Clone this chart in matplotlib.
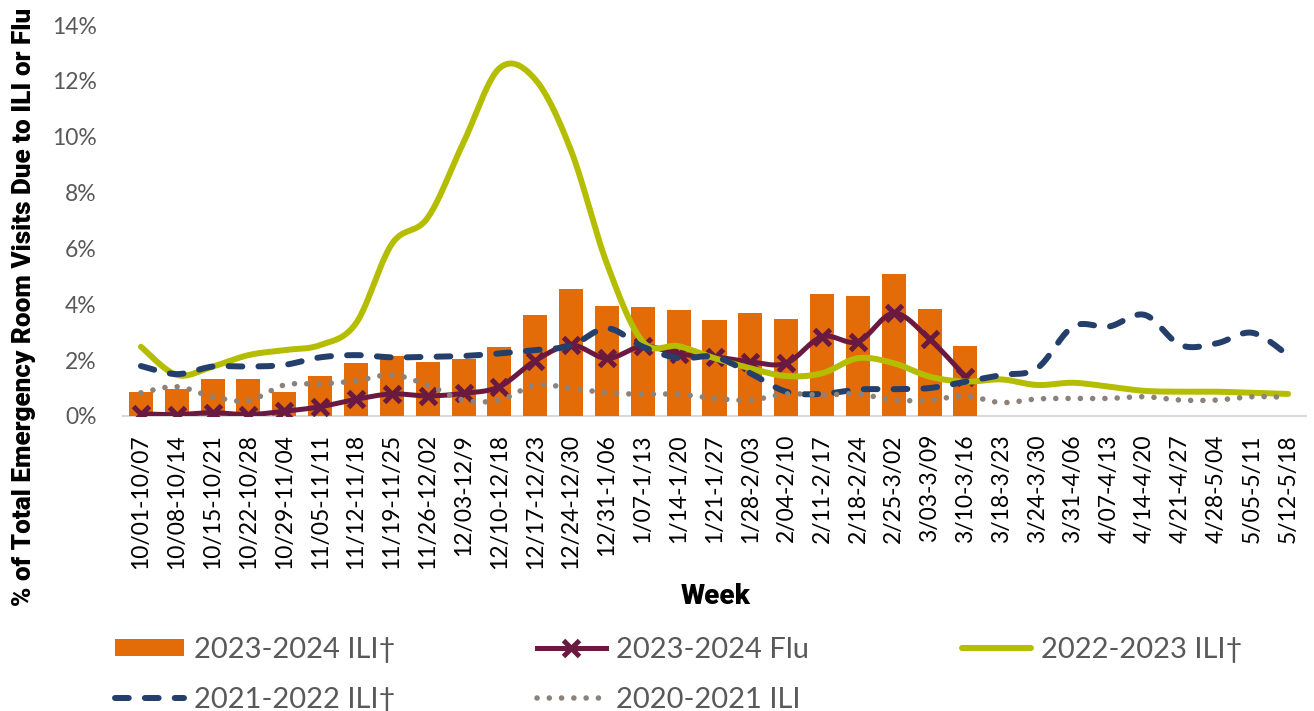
import numpy as np
import matplotlib
matplotlib.use("Agg")
import matplotlib.pyplot as plt
from matplotlib.lines import Line2D
from matplotlib.patches import Patch

weeks = ["10/01-10/07", "10/08-10/14", "10/15-10/21", "10/22-10/28", "10/29-11/04",
         "11/05-11/11", "11/12-11/18", "11/19-11/25", "11/26-12/02", "12/03-12/9",
         "12/10-12/18", "12/17-12/23", "12/24-12/30", "12/31-1/06", "1/07-1/13",
         "1/14-1/20", "1/21-1/27", "1/28-2/03", "2/04-2/10", "2/11-2/17", "2/18-2/24",
         "2/25-3/02", "3/03-3/09", "3/10-3/16", "3/18-3/23", "3/24-3/30", "3/31-4/06",
         "4/07-4/13", "4/14-4/20", "4/21-4/27", "4/28-5/04", "5/05-5/11", "5/12-5/18"]

ili_2324 = [0.86, 0.97, 1.32, 1.32, 0.86, 1.43, 1.90, 2.15, 1.93, 2.04, 2.47, 3.60,
            4.56, 3.94, 3.91, 3.80, 3.44, 3.70, 3.47, 4.37, 4.30, 5.07, 3.82, 2.52]
flu_2324 = [0.08, 0.05, 0.12, 0.05, 0.17, 0.33, 0.60, 0.79, 0.72, 0.81, 1.05, 1.98,
            2.54, 2.06, 2.50, 2.22, 2.12, 1.94, 1.89, 2.84, 2.66, 3.68, 2.75, 1.41]
ili_2223 = [2.48, 1.47, 1.77, 2.18, 2.36, 2.54, 3.32, 6.16, 7.10, 9.80, 12.45, 12.05,
            9.50, 5.45, 2.66, 2.50, 2.07, 1.71, 1.43, 1.53, 2.07, 1.89, 1.41, 1.23,
            1.31, 1.11, 1.19, 1.05, 0.90, 0.87, 0.87, 0.83, 0.79]
ili_2122 = [1.79, 1.50, 1.77, 1.77, 1.83, 2.10, 2.18, 2.10, 2.12, 2.15, 2.24, 2.36,
            2.52, 3.14, 2.48, 2.07, 2.12, 1.53, 0.87, 0.79, 0.95, 0.96, 1.00, 1.23,
            1.47, 1.71, 3.20, 3.20, 3.62, 2.54, 2.60, 2.98, 2.18]
ili_2021 = [0.83, 1.05, 0.69, 0.55, 1.11, 1.15, 1.26, 1.47, 1.11, 0.57, 0.57, 1.11,
            0.99, 0.83, 0.78, 0.78, 0.63, 0.57, 0.79, 0.75, 0.79, 0.57, 0.57, 0.72,
            0.48, 0.61, 0.63, 0.63, 0.69, 0.57, 0.57, 0.69, 0.67]

labels = ["2023-2024 ILI\u2020", "2023-2024 Flu", "2022-2023 ILI\u2020",
          "2021-2022 ILI\u2020", "2020-2021 ILI"]

ORANGE = "#E36C09"
MAROON = "#6A1A41"
GREEN = "#B5BD00"
NAVY = "#243F6B"
GREY = "#8C8279"

TXT = ["Lato", "DejaVu Sans"]
BOLD = ["Roboto", "DejaVu Sans"]


def smooth(xv, yv, n=24):
    p = np.column_stack([np.asarray(xv, float), np.asarray(yv, float)])
    out = [p[:1]]
    t = np.linspace(0, 1, n)[1:, None]
    for i in range(len(p) - 1):
        p0 = p[max(i - 1, 0)]
        p1 = p[i]
        p2 = p[i + 1]
        p3 = p[min(i + 2, len(p) - 1)]
        c1 = p1 + (p2 - p0) / 6.0
        c2 = p2 - (p3 - p1) / 6.0
        seg = ((1 - t) ** 3) * p1 + 3 * ((1 - t) ** 2) * t * c1 + 3 * (1 - t) * t ** 2 * c2 + t ** 3 * p2
        out.append(seg)
    a = np.vstack(out)
    return a[:, 0], a[:, 1]


W, H = 1314, 711
fig = plt.figure(figsize=(W / 100, H / 100), dpi=100)
ax = fig.add_axes([123 / W, 1 - 416 / H, (1306 - 123) / W, (416 - 25) / H])

x = np.arange(len(weeks))
n24 = len(ili_2324)

ax.bar(x[:n24], ili_2324, width=0.67, color=ORANGE, zorder=1)

dash_style = (0, (2.3, 2.7))
dot_style = (0, (0.01, 2.2))

sx, sy = smooth(x[:n24], flu_2324)
ax.plot(sx, sy, color=MAROON, lw=3.6, solid_capstyle="round", zorder=3)
ax.plot(x[:n24], flu_2324, ls="none", marker="x", ms=11, mew=3.6, color=MAROON, zorder=3)

sx, sy = smooth(x, ili_2223)
ax.plot(sx, sy, color=GREEN, lw=4.3, solid_capstyle="round", zorder=4)

sx, sy = smooth(x, ili_2122)
ax.plot(sx, sy, color=NAVY, lw=4.3, ls=dash_style, dash_capstyle="round", zorder=5)

sx, sy = smooth(x, ili_2021)
ax.plot(sx, sy, color=GREY, lw=4.0, ls=dot_style, dash_capstyle="round", zorder=6)

ax.set_xlim(-0.5, len(weeks) - 0.5)
ax.set_ylim(0, 14)
ax.set_yticks(np.arange(0, 15, 2))
ax.set_yticklabels([f"{v}%" for v in range(0, 15, 2)], fontsize=16.5, color="#595959", family=TXT)
ax.set_xticks(x)
ax.set_xticklabels(weeks, rotation=90, fontsize=16.5, color="black", family=TXT)
ax.tick_params(axis="both", length=0)
ax.tick_params(axis="y", pad=19)
ax.tick_params(axis="x", pad=13)
for s in ["top", "right", "left"]:
    ax.spines[s].set_visible(False)
ax.spines["bottom"].set_color("#D9D9D9")
ax.spines["bottom"].set_linewidth(1.5)
ax.spines["bottom"].set_zorder(0.5)

fig.text(24 / W, 1 - 307 / H, "% of Total Emergency Room Visits Due to ILI or Flu",
         rotation=90, ha="center", va="center", fontsize=18.8, fontweight="black", family=BOLD)
fig.text(716 / W, 1 - 597 / H, "Week", ha="center", va="center", fontsize=20,
         fontweight="black", family=BOLD)

handles = [
    Patch(facecolor=ORANGE, edgecolor="none"),
    Line2D([], [], color=MAROON, lw=3.6, marker="x", ms=11, mew=3.6),
    Line2D([], [], color=GREEN, lw=4.3, solid_capstyle="round"),
    Line2D([], [], color=NAVY, lw=4.3, ls=dash_style, dash_capstyle="round"),
    Line2D([], [], color=GREY, lw=4.0, ls=dot_style, dash_capstyle="round"),
]
positions = [(115, 650), (537, 650), (962, 650), (115, 700), (537, 700)]
for h, lab, (px, py) in zip(handles, labels, positions):
    fig.legend([h], [lab], loc="center left", bbox_to_anchor=(px / W, 1 - py / H),
               frameon=False, borderpad=0, borderaxespad=0, handlelength=2.35,
               handletextpad=0.35, numpoints=1, handleheight=0.55,
               prop={"family": TXT, "size": 21}, labelcolor="#595959")

fig.savefig("out.png", dpi=100)
